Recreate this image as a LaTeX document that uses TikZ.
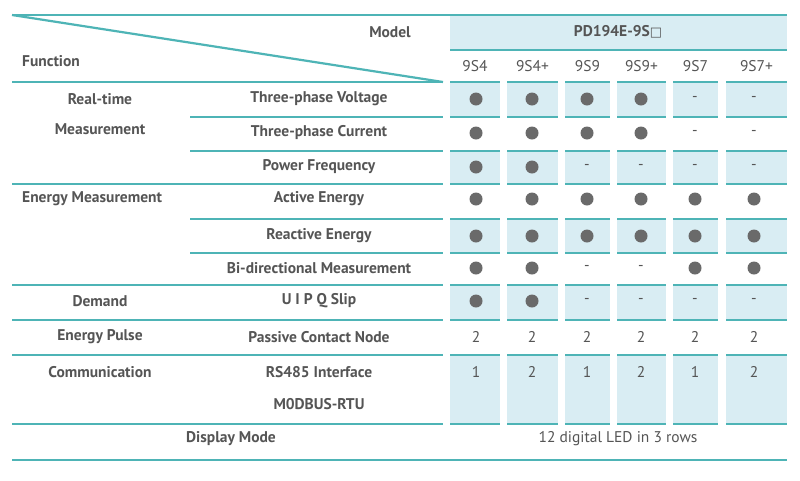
\documentclass[tikz,border=0pt]{standalone}
\usepackage{fontspec}
\setmainfont{PT Sans}
\definecolor{teal1}{HTML}{4EB4B6}
\definecolor{cellbg}{HTML}{D9EDF3}
\definecolor{txt}{HTML}{555555}
\definecolor{dot}{HTML}{6A6A6A}
\begin{document}
\begin{tikzpicture}[x=1pt,y=-1pt,
  tl/.style={draw=teal1,line width=2.2pt},
  cl/.style={draw=teal1,line width=2pt},
  lab/.style={font=\bfseries\fontsize{15.5}{17}\selectfont,text=txt,inner sep=0pt},
  val/.style={font=\fontsize{15.5}{17}\selectfont,text=txt,inner sep=0pt}]
\useasboundingbox (0,0) rectangle (800,480);
\fill[white] (0,0) rectangle (800,480);
% header
\fill[cellbg] (450,16) rectangle (787,50);
\draw[cl] (450,50) -- (787,50);
\draw[tl] (12,15) -- (787,15);
\draw[tl] (12,15) -- (443,82);
\node[lab] (model) at (390,32) {Model};
\node[lab,anchor=west] (func) at (22,61) {Function};
\node[val,font=\bfseries\fontsize{15.5}{17}\selectfont] (pd) at (618,32) {PD194E-9S{\fontspec{DejaVu Sans}\fontsize{13}{14}\selectfont □}};
% columns
\def\cols{450/500/9S4,507/558/9S4+,565/610/9S9,617/666/9S9+,673/718/9S7,726/787/9S7+}
\foreach \a/\b/\t in \cols {\node[val] at ({(\a+\b)/2},66) {\t};}
% shaded rows: top/bottom
\foreach \ya/\yb in {82/117,151/184,219/253,285/320,355/424}{
  \foreach \a/\b/\t in \cols {
    \fill[cellbg] (\a,\ya) rectangle (\b,\yb);
    \draw[cl] (\a,\ya) -- (\b,\ya);
    \draw[cl] (\a,\yb) -- (\b,\yb);
  }}
% left lines
\foreach \y in {82,184,285,320,355,424}{\draw[tl] (12,\y) -- (443,\y);}
\foreach \y in {117,151,219,253}{\draw[tl] (190,\y) -- (443,\y);}
\draw[tl] (12,460) -- (787,460);
% left labels
\node[lab] at (100,99) {Real-time};
\node[lab] at (100,129) {Measurement};
\node[lab,anchor=west] at (22,199) {Energy Measurement};
\node[lab] at (100,301) {Demand};
\node[lab] at (100,337) {Energy Pulse};
\node[lab] at (100,372) {Communication};
\node[lab] at (319,99) {Three-phase Voltage};
\node[lab] at (319,133) {Three-phase Current};
\node[lab] at (319,167) {Power Frequency};
\node[lab] at (319,199) {Active Energy};
\node[lab] at (319,236) {Reactive Energy};
\node[lab] at (319,268) {Bi-directional Measurement};
\node[lab] at (319,301) {U I P Q Slip};
\node[lab] at (319,337) {Passive Contact Node};
\node[lab] at (319,372) {RS485 Interface};
\node[lab] at (319,404) {M0DBUS-RTU};
\node[lab] at (231,439) {Display Mode};
\node[val] at (618,439) {12 digital LED in 3 rows};
% values: o = dot, - = dash, else text
\def\vrows{99/{o,o,o,o,-,-},133/{o,o,o,o,-,-},167/{o,o,-,-,-,-},199/{o,o,o,o,o,o},236/{o,o,o,o,o,o},268/{o,o,-,-,o,o},301/{o,o,-,-,-,-},337/{2,2,2,2,2,2},372/{1,2,1,2,1,2}}
\def\cx{{476,532,587,641,695,754}}
\foreach \y/\vals in \vrows {
  \foreach \v [count=\i from 0] in \vals {
    \pgfmathsetmacro{\xx}{\cx[\i]}
    \if o\v \fill[dot] (\xx,\y) circle (6.5);
    \else \node[val] at (\xx,\y) {\v};\fi
  }}
\end{tikzpicture}
\end{document}
